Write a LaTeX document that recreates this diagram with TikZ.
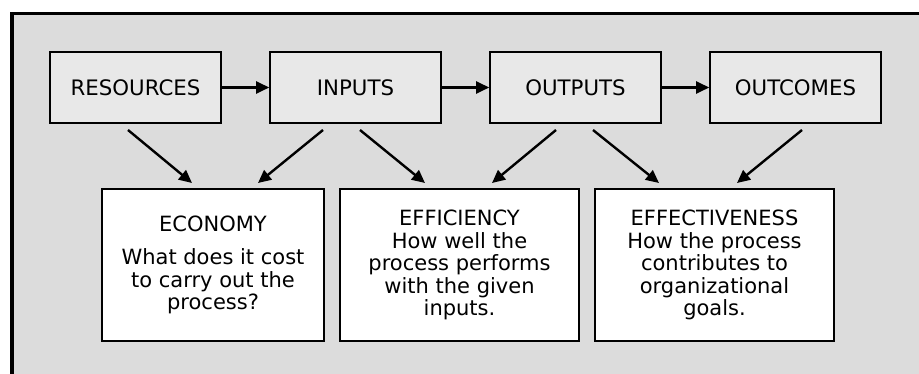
\documentclass[tikz,border=0pt]{standalone}
\usepackage{fontspec}
\setmainfont{DejaVu Sans}
\usetikzlibrary{arrows.meta}
\definecolor{panel}{RGB}{220,220,220}
\definecolor{boxgray}{RGB}{232,232,232}

\begin{document}
\begin{tikzpicture}[x=1pt,y=-1pt,
  topbox/.style={draw,line width=1.6pt,fill=boxgray,minimum width=171pt,minimum height=71pt,inner sep=0pt,font=\fontsize{21.3}{22.5}\selectfont},
  botbox/.style={draw,line width=1.6pt,fill=white,minimum height=152pt,inner sep=0pt,align=center,font=\fontsize{21}{22.5}\selectfont},
  arr/.style={line width=2.4pt,-{Triangle[length=13pt,width=12pt]}}]
\useasboundingbox (0,0) rectangle (919,374);
\fill[panel] (12,13.5) rectangle (919,374);
\draw[line width=3.5pt] (12,374) -- (12,13.5) -- (919,13.5);

\node[topbox] (res) at (135.5,87.5) {RESOURCES};
\node[topbox] (inp) at (355.5,87.5) {INPUTS};
\node[topbox] (outp) at (575.5,87.5) {OUTPUTS};
\node[topbox] (outc) at (795.5,87.5) {OUTCOMES};

\node[botbox,minimum width=222pt] (eco) at (213,265) {ECONOMY\\[11pt]What does it cost\\to carry out the\\process?};
\node[botbox,minimum width=239pt] (effi) at (459.5,265) {EFFICIENCY\\How well the\\process performs\\with the given\\inputs.};
\node[botbox,minimum width=239pt] (effe) at (714.5,265) {EFFECTIVENESS\\How the process\\contributes to\\organizational\\goals.};

\draw[arr] (res) -- (inp);
\draw[arr] (inp) -- (outp);
\draw[arr] (outp) -- (outc);

\coordinate (r1) at (128,130);
\coordinate (i1) at (323,130);
\coordinate (i2) at (360,130);
\coordinate (o1) at (556,130);
\coordinate (o2) at (593,130);
\coordinate (c1) at (802,130);
\coordinate (e1) at (192,183);
\coordinate (e2) at (258,183);
\coordinate (f1) at (425,183);
\coordinate (f2) at (492,183);
\coordinate (g1) at (659,183);
\coordinate (g2) at (737,183);

\draw[arr] (r1) -- (e1);
\draw[arr] (i1) -- (e2);
\draw[arr] (i2) -- (f1);
\draw[arr] (o1) -- (f2);
\draw[arr] (o2) -- (g1);
\draw[arr] (c1) -- (g2);
\end{tikzpicture}
\end{document}
